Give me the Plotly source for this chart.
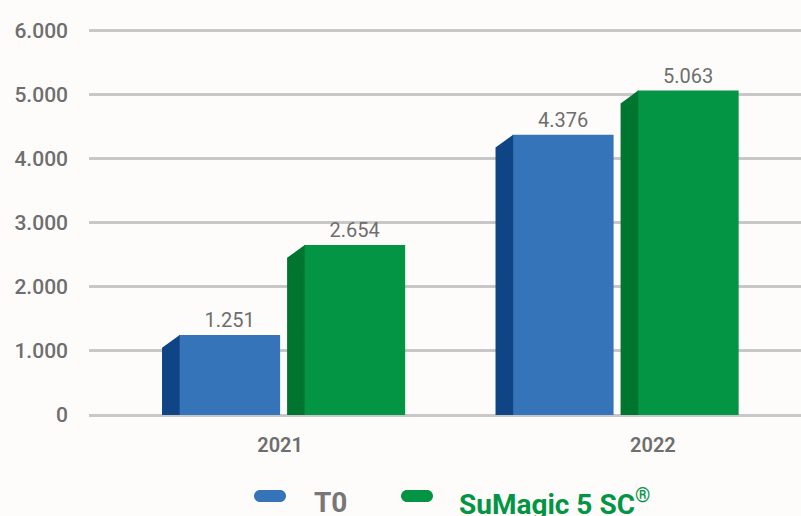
import plotly.graph_objects as go

# ---- data ----
categories = ["2021", "2022"]
series_names = ["T0", "SuMagic 5 SC®"]
t0_values = [1251, 4376]
sumagic_values = [2654, 5063]
y_ticks = [0, 1000, 2000, 3000, 4000, 5000, 6000]

# ---- style ----
BG = "#fdfcfa"
GRID = "#c8c8c8"
TXT = "#6e6e6e"
FRONT = ["#3574b8", "#039444"]
SIDE = ["#0f4585", "#00752f"]
LEGEND_TXT = ["#777777", "#039444"]
FRONT_W = 0.303
SIDE_W = 0.051
FRONT_OFF = [-0.339, 0.036]    # left edge of front face relative to group centre
SLANT = 200                    # drop of side face outer edge (data units)
LABEL_SHIFT = [-0.036, 0.082]  # category label placement relative to group centre
FONT = "Roboto"

xpos = list(range(len(categories)))
all_values = [t0_values, sumagic_values]

fig = go.Figure()

for s, (name, vals) in enumerate(zip(series_names, all_values)):
    # dark side face of the pseudo-3D bar
    for i, v in enumerate(vals):
        xl = xpos[i] + FRONT_OFF[s]
        fig.add_trace(go.Scatter(
            x=[xl - SIDE_W, xl - SIDE_W, xl + 0.002, xl + 0.002, xl - SIDE_W],
            y=[0, v - SLANT, v, 0, 0],
            fill="toself", mode="none", fillcolor=SIDE[s],
            hoverinfo="skip", showlegend=False,
        ))
    # front face
    fig.add_trace(go.Bar(
        x=xpos, y=vals, name=name,
        width=FRONT_W, offset=FRONT_OFF[s],
        marker=dict(color=FRONT[s], line=dict(width=0)),
        texttemplate="%{y:,.0f}", textposition="outside",
        textfont=dict(family=FONT, size=20, color=TXT),
        cliponaxis=False, showlegend=False,
    ))

# legend drawn as pills + coloured text
PLOT_L, PLOT_W = 89, 712
PLOT_BOTTOM, PLOT_H = 417, 389
def px_x(p):
    return (p - PLOT_L) / PLOT_W
def px_y(p):
    return (PLOT_BOTTOM - p) / PLOT_H

pill = ("M -10,-6 L 10,-6 C 13.3,-6 16,-3.3 16,0 C 16,3.3 13.3,6 10,6 "
        "L -10,6 C -13.3,6 -16,3.3 -16,0 C -16,-3.3 -13.3,-6 -10,-6 Z")
pill_x = [270, 417]
text_x = [312, 457]
for s, name in enumerate(series_names):
    fig.add_shape(type="path", xref="paper", yref="paper",
                  xsizemode="pixel", ysizemode="pixel",
                  xanchor=px_x(pill_x[s]), yanchor=px_y(496),
                  path=pill, fillcolor=FRONT[s], line=dict(width=0))
    label = name.replace("®", "<sup>®</sup>")
    fig.add_annotation(xref="paper", yref="paper", x=px_x(text_x[s]), y=px_y(502),
                       xanchor="left", yanchor="middle", showarrow=False,
                       text=f"<b>{label}</b>",
                       font=dict(family=FONT, size=28, color=LEGEND_TXT[s]))

fig.update_layout(
    width=801, height=516,
    margin=dict(l=PLOT_L, r=0, t=28, b=99),
    paper_bgcolor=BG, plot_bgcolor=BG,
    separators=",.",
    showlegend=False,
    barmode="overlay",
    xaxis=dict(
        range=[-0.609, 1.526],
        tickvals=[x + d for x, d in zip(xpos, LABEL_SHIFT)],
        ticktext=categories,
        showgrid=False, zeroline=False, showline=False, ticks="",
        ticklabelstandoff=14,
        tickfont=dict(family=FONT, size=20, color=TXT, weight=600),
    ),
    yaxis=dict(
        range=[-30, 6040],
        tickvals=y_ticks, tickformat=",.0f",
        showgrid=True, gridcolor=GRID, gridwidth=3,
        zeroline=True, zerolinecolor=GRID, zerolinewidth=3,
        showline=False, ticks="",
        ticklabelstandoff=20,
        tickfont=dict(family=FONT, size=21, color=TXT, weight=500),
    ),
)

fig.write_html(
    "out.html",
    config={"displayModeBar": False},
    post_script="document.body.style.margin='0';document.body.style.background='%s';" % BG,
)
